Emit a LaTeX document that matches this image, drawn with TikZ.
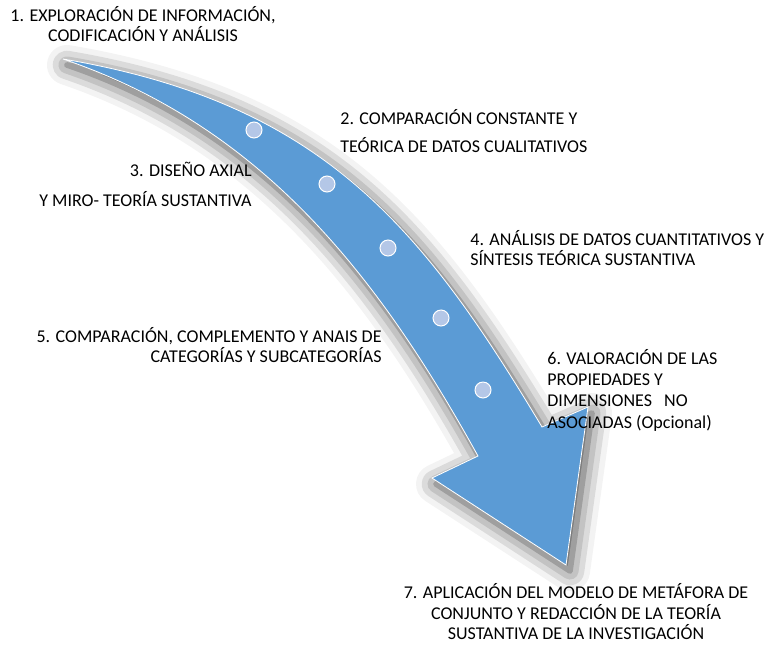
\documentclass[tikz,border=0pt]{standalone}
\usepackage{fontspec}
\setmainfont{Carlito}
\usepackage{xcolor}
\usepackage{tikz}
\usetikzlibrary{shadows.blur}

\definecolor{arrowblue}{HTML}{5B9BD5}
\definecolor{dotblue}{HTML}{B4C7E7}
\definecolor{txtgray}{HTML}{000000}

\begin{document}
\begin{tikzpicture}[
		%Global config
		x=1pt, y=-1pt,
		line width=0.8pt,
		font=\fontsize{18}{20}\selectfont,
		%Styles
		Arrow/.style={
			fill=arrowblue,
			draw=white,
			blur shadow={shadow xshift=4pt, shadow yshift=-6pt, shadow blur radius=20pt, shadow opacity=75},
		},
		Dot/.style={
			circle,
			fill=dotblue,
			draw=white,
			line width=1pt,
			minimum size=16pt,
			inner sep=0pt,
		},
		Label/.style={
			text=txtgray,
			inner sep=0pt,
		}
		]
	\useasboundingbox (0,0) rectangle (767,646);

	% key points of the arrow
	\coordinate (tail) at (63,59);
	\coordinate (lnotch) at (478,456);
	\coordinate (lwing) at (432,478);
	\coordinate (tip) at (566,565);
	\coordinate (rwing) at (588,407);
	\coordinate (rnotch) at (542,427);

	\draw[Arrow] (tail) .. controls (263,127) and (379,277) .. (lnotch) -- (lwing) -- (tip) -- (rwing) -- (rnotch) .. controls (422,227) and (323,103) .. (tail) -- cycle;

	% steps on the arrow
	\node[Dot] (s1) at (254,130) {};
	\node[Dot] (s2) at (327,184) {};
	\node[Dot] (s3) at (388,248) {};
	\node[Dot] (s4) at (441,318) {};
	\node[Dot] (s5) at (483,390) {};

	% labels
	\node[Label, align=center] (t1) at (143,24) {1. EXPLORACIÓN DE INFORMACIÓN,\\CODIFICACIÓN Y ANÁLISIS};
	\node[Label, align=left, anchor=west, font=\fontsize{18}{28}\selectfont] (t2) at (340,131) {2. COMPARACIÓN CONSTANTE Y\\TEÓRICA DE DATOS CUALITATIVOS};
	\node[Label, align=right, anchor=east, font=\fontsize{18}{30}\selectfont] (t3) at (252,184) {3. DISEÑO AXIAL\\Y MIRO- TEORÍA SUSTANTIVA};
	\node[Label, align=left, anchor=west] (t4) at (470,248) {4. ANÁLISIS DE DATOS CUANTITATIVOS Y\\SÍNTESIS TEÓRICA SUSTANTIVA};
	\node[Label, align=right, anchor=east] (t5) at (382,345) {5. COMPARACIÓN, COMPLEMENTO Y ANAIS DE\\CATEGORÍAS Y SUBCATEGORÍAS};
	\node[Label, align=left, anchor=west, font=\fontsize{18}{21.3}\selectfont] (t6) at (547,390) {6. VALORACIÓN DE LAS\\PROPIEDADES Y\\DIMENSIONES\ \ \ NO\\ASOCIADAS (Opcional)};
	\node[Label, align=center, font=\fontsize{18}{20.5}\selectfont] (t7) at (576,612) {7. APLICACIÓN DEL MODELO DE METÁFORA DE\\CONJUNTO Y REDACCIÓN DE LA TEORÍA\\SUSTANTIVA DE LA INVESTIGACIÓN};
\end{tikzpicture}
\end{document}
